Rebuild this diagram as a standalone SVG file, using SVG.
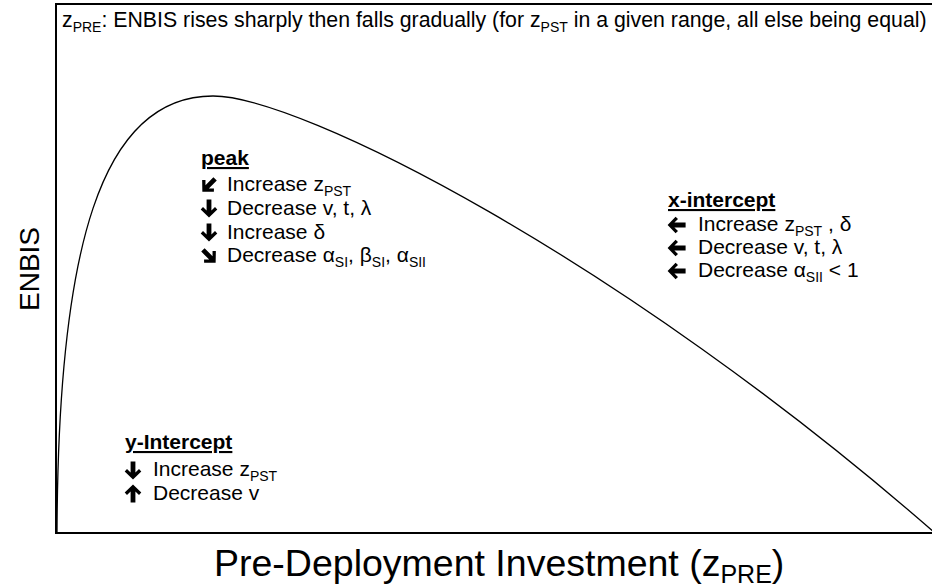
<svg xmlns="http://www.w3.org/2000/svg" width="932" height="588" viewBox="0 0 932 588">
  <style>
    text { font-family: "Liberation Sans", Arial, sans-serif; fill: #000; }
    .body { font-size: 21px; }
    .title { font-size: 21.3px; }
    .head { font-size: 21px; font-weight: bold; text-decoration: underline; }
    .sub { font-size: 14px; }
    .axis { fill: none; stroke: #000; stroke-width: 2; }
    .curve { fill: none; stroke: #000; stroke-width: 1.3; }
    .arr { fill: #000; }
  </style>
  <defs>
    <!-- heavy arrow pointing down, centred on the origin -->
    <path id="arrow" class="arr" d="M-2.4,-8.6 H2.4 V2.6 L6,-1 L8.3,1.4 L0,9.4 L-8.3,1.4 L-6,-1 L-2.4,2.6 Z"/>
  </defs>

  <!-- frame -->
  <g id="frame">
    <polyline class="axis" points="935,4 56,4 56,533 935,533"/>
  </g>

  <!-- title -->
  <g id="title">
    <text class="title" x="62" y="27">z<tspan class="sub" dy="5">PRE</tspan><tspan dy="-5">: ENBIS rises sharply then falls gradually (for z</tspan><tspan class="sub" dy="5">PST</tspan><tspan dy="-5"> in a given range, all else being equal)</tspan></text>
  </g>

  <!-- axis labels -->
  <g id="y-label">
    <text x="0" y="0" font-size="28" text-anchor="middle" transform="translate(39,269) rotate(-90)">ENBIS</text>
  </g>
  <g id="x-label">
    <text x="214" y="576" font-size="37.5">Pre-Deployment Investment (z<tspan font-size="25" dy="7">PRE</tspan><tspan dy="-7">)</tspan></text>
  </g>

  <!-- ENBIS curve -->
  <g id="connectors">
    <path class="curve" d="M57,533 C58,250 100,96 213,96 C300,96 620,258 935,533"/>
  </g>

  <!-- peak annotations -->
  <g id="peak">
    <text class="head" x="201" y="165">peak</text>
    <use href="#arrow" transform="translate(209,185) rotate(45)"/>
    <text class="body" x="227" y="191">Increase z<tspan class="sub" dy="5">PST</tspan></text>
    <use href="#arrow" transform="translate(209,208)"/>
    <text class="body" x="227" y="215">Decrease v, t, λ</text>
    <use href="#arrow" transform="translate(209,232)"/>
    <text class="body" x="227" y="239">Increase δ</text>
    <use href="#arrow" transform="translate(209,256) rotate(-45)"/>
    <text class="body" x="227" y="262">Decrease α<tspan class="sub" dy="5">SI</tspan><tspan dy="-5">, β</tspan><tspan class="sub" dy="5">SI</tspan><tspan dy="-5">, α</tspan><tspan class="sub" dy="5">SII</tspan></text>
  </g>

  <!-- x-intercept annotations -->
  <g id="x-intercept">
    <text class="head" x="668" y="207">x-intercept</text>
    <use href="#arrow" transform="translate(677,225) rotate(90)"/>
    <text class="body" x="698" y="231">Increase z<tspan class="sub" dy="5">PST</tspan><tspan dy="-5"> , δ</tspan></text>
    <use href="#arrow" transform="translate(677,248) rotate(90)"/>
    <text class="body" x="698" y="254">Decrease v, t, λ</text>
    <use href="#arrow" transform="translate(677,271) rotate(90)"/>
    <text class="body" x="698" y="277">Decrease α<tspan class="sub" dy="5">SII</tspan><tspan dy="-5"> &lt; 1</tspan></text>
  </g>

  <!-- y-intercept annotations -->
  <g id="y-intercept">
    <text class="head" x="125" y="449">y-Intercept</text>
    <use href="#arrow" transform="translate(133,470)"/>
    <text class="body" x="153" y="476">Increase z<tspan class="sub" dy="5">PST</tspan></text>
    <use href="#arrow" transform="translate(133,494) rotate(180)"/>
    <text class="body" x="153" y="500">Decrease v</text>
  </g>
</svg>
